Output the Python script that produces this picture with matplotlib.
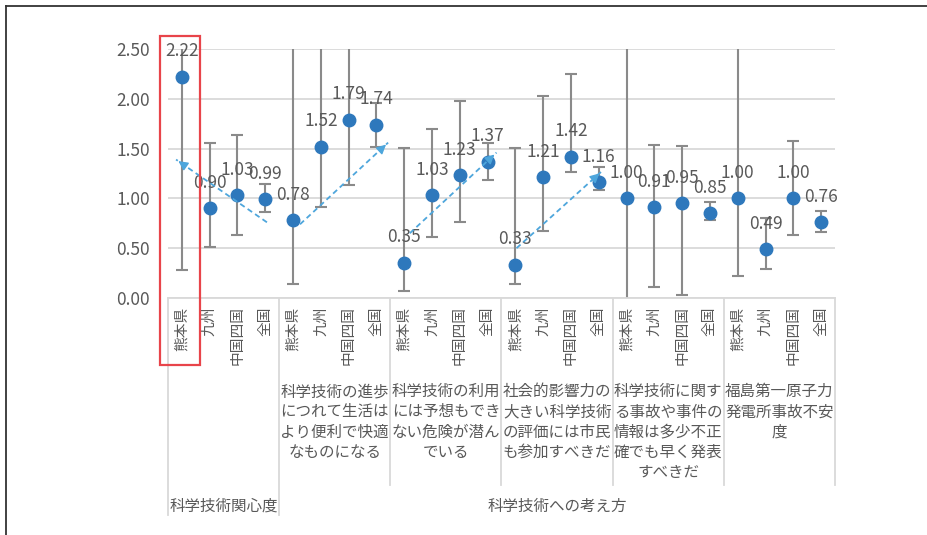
import matplotlib
matplotlib.use("Agg")
import matplotlib.pyplot as plt
import matplotlib.transforms as mtransforms
from matplotlib.patches import Rectangle
from matplotlib.lines import Line2D

plt.rcParams['font.family'] = ['Noto Sans CJK JP', 'DejaVu Sans']

# ---------------- data ----------------
regions = ['熊本県', '九州', '中国四国', '全国']
group_labels = [
    '',
    '科学技術の進歩\nにつれて生活は\nより便利で快適\nなものになる',
    '科学技術の利用\nには予想もでき\nない危険が潜ん\nでいる',
    '社会的影響力の\n大きい科学技術\nの評価には市民\nも参加すべきだ',
    '科学技術に関す\nる事故や事件の\n情報は多少不正\n確でも早く発表\nすべきだ',
    '福島第一原子力\n発電所事故不安\n度',
]
outer_labels = ['科学技術関心度', '科学技術への考え方']

values = [2.22, 0.90, 1.03, 0.99,
          0.78, 1.52, 1.79, 1.74,
          0.35, 1.03, 1.23, 1.37,
          0.33, 1.21, 1.42, 1.16,
          1.00, 0.91, 0.95, 0.85,
          1.00, 0.49, 1.00, 0.76]
err_low = [0.28, 0.51, 0.63, 0.86,
           0.14, 0.91, 1.13, 1.52,
           0.07, 0.61, 0.76, 1.18,
           0.14, 0.67, 1.27, 1.08,
           -0.10, 0.11, 0.03, 0.78,
           0.22, 0.29, 0.63, 0.66]
err_high = [4.16, 1.56, 1.64, 1.14,
            2.90, 2.90, 2.90, 1.96,
            1.51, 1.70, 1.98, 1.56,
            1.51, 2.03, 2.25, 1.32,
            2.90, 1.54, 1.53, 0.96,
            2.90, 0.80, 1.58, 0.87]

# trend arrows (start x, start y) -> (end x, end y) in category/value units
arrow_x0 = [3.06, 4.25, 8.20, 12.04]
arrow_y0 = [0.76, 0.74, 0.65, 0.50]
arrow_x1 = [-0.21, 7.42, 11.32, 15.10]
arrow_y1 = [1.39, 1.56, 1.46, 1.27]

yticks = [0.0, 0.5, 1.0, 1.5, 2.0, 2.5]

# ---------------- figure ----------------
W, H = 928, 535
fig = plt.figure(figsize=(W / 100, H / 100), dpi=100)
ax_left, ax_right, ax_top, ax_bot = 168, 835, 49, 298
ax = fig.add_axes([ax_left / W, 1 - ax_bot / H, (ax_right - ax_left) / W, (ax_bot - ax_top) / H])

n = len(values)
xs = list(range(n))
ax.set_xlim(-0.5, n - 0.5)
ax.set_ylim(0, 2.5)

txt_col = '#595959'
blue = '#2E78BC'

# grid
ax.set_yticks(yticks)
ax.set_yticklabels([f'{v:.2f}' for v in yticks], fontsize=12.5, color=txt_col)
ax.yaxis.grid(True, color='#D9D9D9', lw=1.3)
ax.set_axisbelow(True)
ax.tick_params(axis='y', length=0, pad=13)
for s in ['left', 'right', 'top']:
    ax.spines[s].set_visible(False)
ax.spines['bottom'].set_color('#D9D9D9')
ax.spines['bottom'].set_linewidth(1.3)

# x tick labels (vertical)
ax.set_xticks(xs)
ax.set_xticklabels([regions[i % 4] for i in xs], rotation=90, fontsize=10.6, color=txt_col)
ax.tick_params(axis='x', length=0, pad=6)

# error bars
ylo = [v - l for v, l in zip(values, err_low)]
yhi = [h - v for v, h in zip(values, err_high)]
ax.errorbar(xs, values, yerr=[ylo, yhi], fmt='none', ecolor='#8A8A8A',
            elinewidth=1.5, capsize=4.5, capthick=1.5, zorder=2)
ax.plot(xs, values, 'o', color=blue, markersize=9, zorder=3, linestyle='none')

# data labels
for x, v in zip(xs, values):
    ax.annotate(f'{v:.2f}', (x, v), xytext=(0, 18.5), textcoords='offset points',
                ha='center', va='center', fontsize=12.5, color=txt_col, zorder=4)

# trend arrows
acol = '#4EA6DC'
for x0, y0, x1, y1 in zip(arrow_x0, arrow_y0, arrow_x1, arrow_y1):
    ax.plot([x0, x1], [y0, y1], linestyle=(0, (3, 2)), color=acol, lw=1.3, zorder=5)
    fx = x0 + (x1 - x0) * 0.93
    fy = y0 + (y1 - y0) * 0.93
    ax.annotate('', xy=(x1, y1), xytext=(fx, fy),
                arrowprops=dict(arrowstyle='-|>', color=acol, lw=1.0, mutation_scale=14),
                zorder=5)

# category separators and group labels
btrans = mtransforms.blended_transform_factory(ax.transData, ax.transAxes)
ax_h = ax_bot - ax_top


def yfrac(ypx):
    return (ax_bot - ypx) / ax_h


for k in range(7):
    xb = -0.5 + 4 * k
    yend = 515 if k in (0, 1) else 485
    ax.add_line(Line2D([xb, xb], [0, yfrac(yend)], transform=btrans, color='#D9D9D9',
                       lw=1.3, clip_on=False))

for g, lab in enumerate(group_labels):
    if lab:
        ax.text(4 * g + 1.5, yfrac(383), lab, transform=btrans, ha='center', va='top',
                fontsize=11.2, color=txt_col, linespacing=1.25, clip_on=False)

ax.text(1.5, yfrac(506), outer_labels[0], transform=btrans, ha='center', va='center',
        fontsize=11.2, color=txt_col, clip_on=False)
ax.text(13.5, yfrac(506), outer_labels[1], transform=btrans, ha='center', va='center',
        fontsize=11.2, color=txt_col, clip_on=False)

# red highlight box (figure pixel coordinates)
fig.patches.append(Rectangle((160 / W, 1 - 365 / H), 40 / W, (365 - 36) / H,
                             transform=fig.transFigure, fill=False,
                             edgecolor='#E8444A', lw=1.6))

# outer frame (top and left)
fig.add_artist(Line2D([6 / W, 1], [1 - 6 / H, 1 - 6 / H], transform=fig.transFigure,
                      color='#333333', lw=1.3))
fig.add_artist(Line2D([6 / W, 6 / W], [0, 1 - 6 / H], transform=fig.transFigure,
                      color='#333333', lw=1.3))

fig.savefig('out.png', dpi=100)
